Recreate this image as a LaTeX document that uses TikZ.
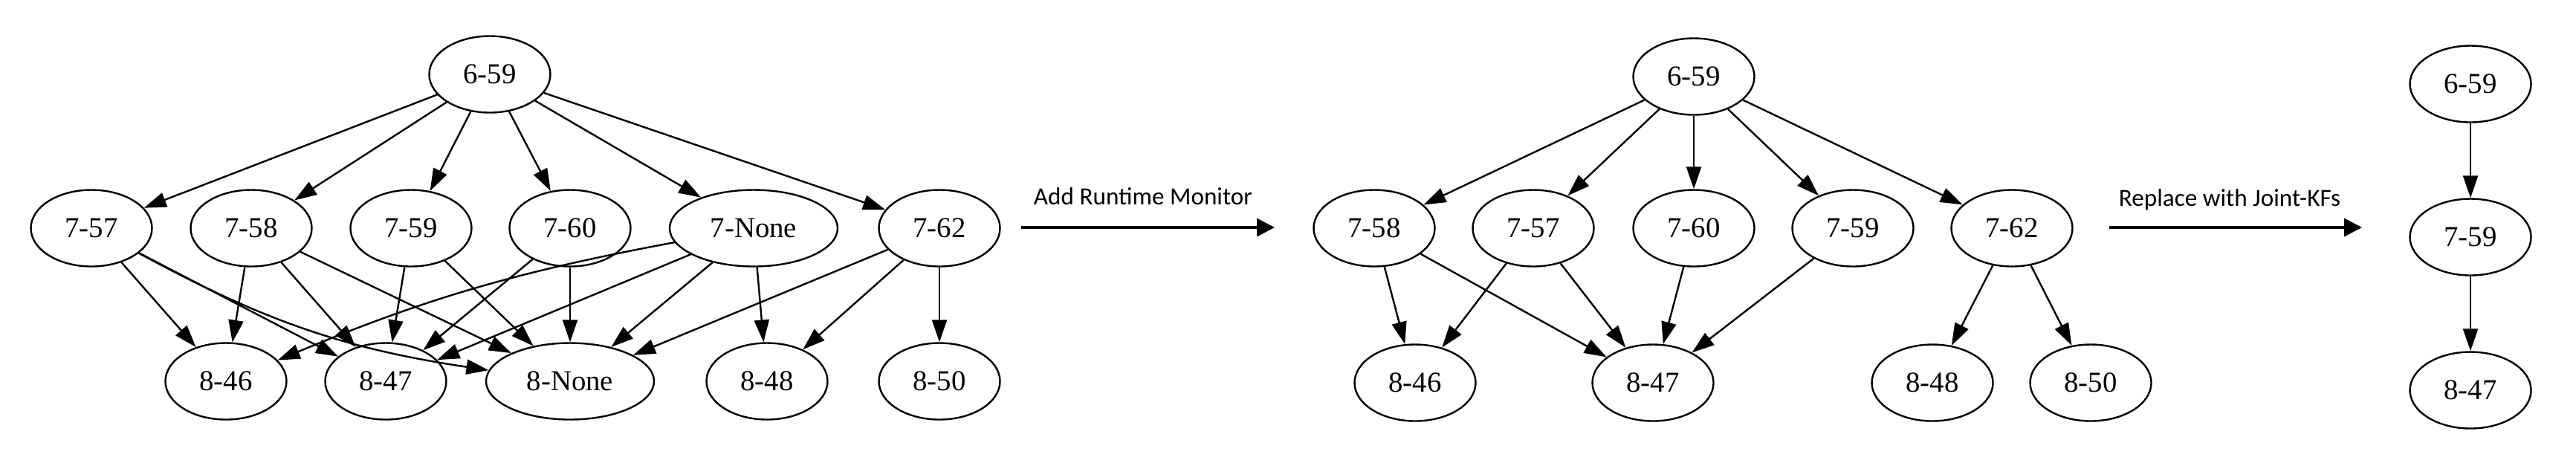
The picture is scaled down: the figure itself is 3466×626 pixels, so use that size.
\documentclass[tikz,border=0pt]{standalone}
\usepackage{fontspec}
\setmainfont{Liberation Serif}
\newfontfamily\stagefont{Carlito}
\newfontfamily\kffont{Liberation Serif}
\usetikzlibrary{arrows.meta,shapes.geometric}

\begin{document}
\begin{tikzpicture}[x=0.25pt,y=-0.25pt,every node/.style={align=center},
		kf/.style={draw,ellipse,line width=0.6pt,minimum width=40.75pt,minimum height=25.75pt,inner sep=0pt,font=\kffont\fontsize{9.7}{11}\selectfont},
		kfwide/.style={kf,minimum width=56.5pt},
		edge/.style={line width=0.6pt,-{Triangle[length=7.5pt,width=5pt]}},
		stagearrow/.style={line width=1pt,-{Triangle[length=6pt,width=6pt]}},
		stagelabel/.style={font=\stagefont\fontsize{8.3}{10}\selectfont,anchor=base}]
			\useasboundingbox (0,0) rectangle (3466,626);
			% full keyframe graph
			\node[kf] (L659) at (659,100) {6-59};
			\node[kf] (L757) at (123,307) {7-57};
			\node[kf] (L758) at (338,307) {7-58};
			\node[kf] (L759) at (553,307) {7-59};
			\node[kf] (L760) at (767,307) {7-60};
			\node[kfwide] (L7None) at (1014,307) {7-None};
			\node[kf] (L762) at (1264,307) {7-62};
			\node[kf] (L846) at (304,513) {8-46};
			\node[kf] (L847) at (519,513) {8-47};
			\node[kfwide] (L8None) at (767,513) {8-None};
			\node[kf] (L848) at (1032,513) {8-48};
			\node[kf] (L850) at (1264,513) {8-50};
			\draw[edge] (L659) -- (L757);
			\draw[edge] (L659) -- (L758);
			\draw[edge] (L659) -- (L759);
			\draw[edge] (L659) -- (L760);
			\draw[edge] (L659) -- (L7None);
			\draw[edge] (L659) -- (L762);
			\draw[edge] (L757) -- (L846);
			\draw[edge] (L757) -- (L847);
			\draw[edge] (L757) to[bend right=10] (L8None);
			\draw[edge] (L758) -- (L846);
			\draw[edge] (L758) -- (L847);
			\draw[edge] (L758) -- (L8None);
			\draw[edge] (L759) -- (L847);
			\draw[edge] (L759) -- (L8None);
			\draw[edge] (L760) -- (L847);
			\draw[edge] (L760) -- (L8None);
			\draw[edge] (L7None) to[bend right=6] (L846);
			\draw[edge] (L7None) -- (L847);
			\draw[edge] (L7None) -- (L8None);
			\draw[edge] (L7None) -- (L848);
			\draw[edge] (L762) -- (L8None);
			\draw[edge] (L762) -- (L848);
			\draw[edge] (L762) -- (L850);
			% first step
			\coordinate (addfrom) at (1374,306);
			\coordinate (addto) at (1715,306);
			\draw[stagearrow] (addfrom) -- (addto);
			\node[stagelabel] (addlabel) at (1538,275) {Add Runtime Monitor};
			% graph with monitor
			\node[kf] (M659) at (2279,103) {6-59};
			\node[kf] (M758) at (1849,307) {7-58};
			\node[kf] (M757) at (2063,307) {7-57};
			\node[kf] (M760) at (2279,307) {7-60};
			\node[kf] (M759) at (2493,307) {7-59};
			\node[kf] (M762) at (2707,307) {7-62};
			\node[kf] (M846) at (1904,515) {8-46};
			\node[kf] (M847) at (2224,515) {8-47};
			\node[kf] (M848) at (2600,515) {8-48};
			\node[kf] (M850) at (2813,515) {8-50};
			\draw[edge] (M659) -- (M758);
			\draw[edge] (M659) -- (M757);
			\draw[edge] (M659) -- (M760);
			\draw[edge] (M659) -- (M759);
			\draw[edge] (M659) -- (M762);
			\draw[edge] (M758) -- (M846);
			\draw[edge] (M758) -- (M847);
			\draw[edge] (M757) -- (M846);
			\draw[edge] (M757) -- (M847);
			\draw[edge] (M760) -- (M847);
			\draw[edge] (M759) -- (M847);
			\draw[edge] (M762) -- (M848);
			\draw[edge] (M762) -- (M850);
			% second step
			\coordinate (jointfrom) at (2838,306);
			\coordinate (jointto) at (3178,306);
			\draw[stagearrow] (jointfrom) -- (jointto);
			\node[stagelabel] (jointlabel) at (3000,277) {Replace with Joint-KFs};
			% joint keyframes
			\node[kf] (R659) at (3324,113) {6-59};
			\node[kf] (R759) at (3324,319) {7-59};
			\node[kf] (R847) at (3324,525) {8-47};
			\draw[edge] (R659) -- (R759);
			\draw[edge] (R759) -- (R847);
		\end{tikzpicture}
\end{document}
